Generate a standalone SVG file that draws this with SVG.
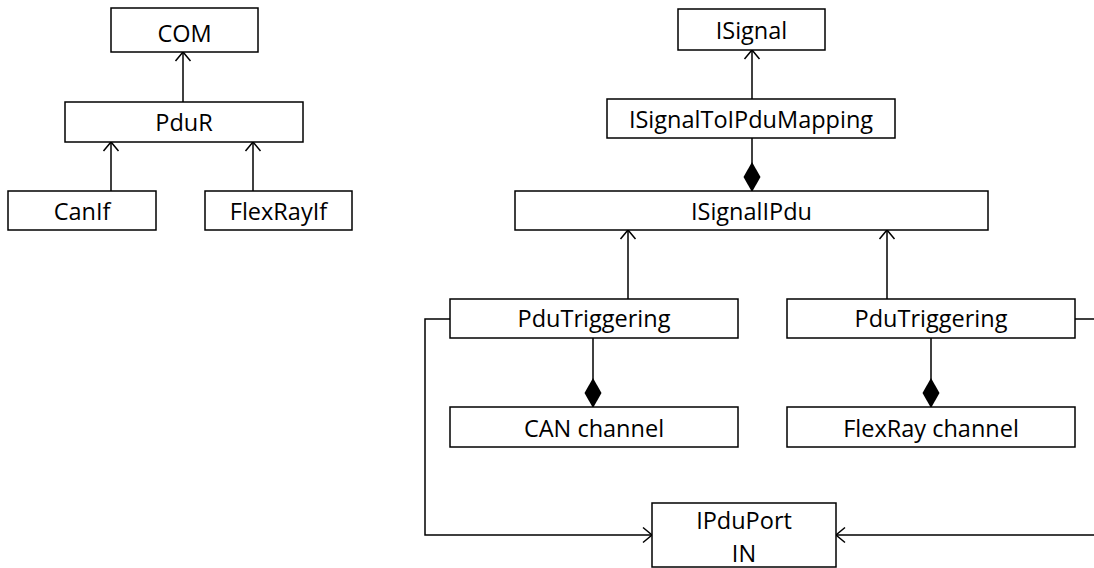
<svg xmlns="http://www.w3.org/2000/svg" width="1094" height="568" viewBox="0 0 1094 568">
<style>
.box{fill:#fff;stroke:#000;stroke-width:1.5}
.lbl{font-family:"Open Sans","Liberation Sans",sans-serif;font-size:23.5px;fill:#000;text-anchor:middle}
.c{fill:none;stroke:#000;stroke-width:1.5}
.a{marker-end:url(#arrow)}
.d{marker-end:url(#diamond)}
</style>
<defs>
<marker id="arrow" markerUnits="userSpaceOnUse" viewBox="0 0 12 18" markerWidth="12" markerHeight="18" refX="10" refY="9" orient="auto">
<path d="M1,1.5 L10,9 L1,16.5" fill="none" stroke="#000" stroke-width="1.5"/>
</marker>
<marker id="diamond" markerUnits="userSpaceOnUse" viewBox="0 0 32 18" markerWidth="32" markerHeight="18" refX="31" refY="9" orient="auto">
<path d="M1,9 L16,0.5 L31,9 L16,17.5 Z" fill="#000"/>
</marker>
</defs>
<g id="connectors">
<line class="c a" x1="183" y1="102" x2="183" y2="52"/>
<line class="c a" x1="111" y1="191" x2="111" y2="142"/>
<line class="c a" x1="253" y1="191" x2="253" y2="142"/>
<line class="c a" x1="752" y1="99" x2="752" y2="50"/>
<line class="c d" x1="752" y1="138" x2="752" y2="192"/>
<line class="c a" x1="628" y1="299" x2="628" y2="230"/>
<line class="c a" x1="887" y1="299" x2="887" y2="230"/>
<line class="c d" x1="593" y1="338" x2="593" y2="408"/>
<line class="c d" x1="931" y1="338" x2="931" y2="408"/>
<path class="c a" d="M450,319 H425 V535 H652"/>
<path class="c a" d="M1075,319 H1100 V535 H836"/>
</g>
<g id="com"><rect class="box" x="111" y="8" width="147" height="44"/><text class="lbl" x="184.5" y="42">COM</text></g>
<g id="pdur"><rect class="box" x="65" y="102" width="238" height="40"/><text class="lbl" x="184" y="131">PduR</text></g>
<g id="canif"><rect class="box" x="8" y="191" width="148" height="39"/><text class="lbl" x="82" y="220">CanIf</text></g>
<g id="flexrayif"><rect class="box" x="205" y="191" width="147" height="39"/><text class="lbl" x="278.5" y="220">FlexRayIf</text></g>
<g id="isignal"><rect class="box" x="678" y="9" width="147" height="41"/><text class="lbl" x="751.5" y="39">ISignal</text></g>
<g id="mapping"><rect class="box" x="607" y="99" width="288" height="39"/><text class="lbl" x="751" y="128">ISignalToIPduMapping</text></g>
<g id="isignalipdu"><rect class="box" x="515" y="191" width="473" height="39"/><text class="lbl" x="751.5" y="220">ISignalIPdu</text></g>
<g id="pdutrig-can"><rect class="box" x="450" y="299" width="288" height="39"/><text class="lbl" x="594" y="327">PduTriggering</text></g>
<g id="pdutrig-fr"><rect class="box" x="787" y="299" width="288" height="39"/><text class="lbl" x="931" y="327">PduTriggering</text></g>
<g id="can-channel"><rect class="box" x="450" y="407" width="288" height="40"/><text class="lbl" x="594" y="437">CAN channel</text></g>
<g id="fr-channel"><rect class="box" x="787" y="407" width="288" height="40"/><text class="lbl" x="931" y="437">FlexRay channel</text></g>
<g id="ipduport"><rect class="box" x="652" y="503" width="184" height="64"/><text class="lbl" x="744" y="529">IPduPort</text><text class="lbl" x="744" y="562">IN</text></g>
</svg>
